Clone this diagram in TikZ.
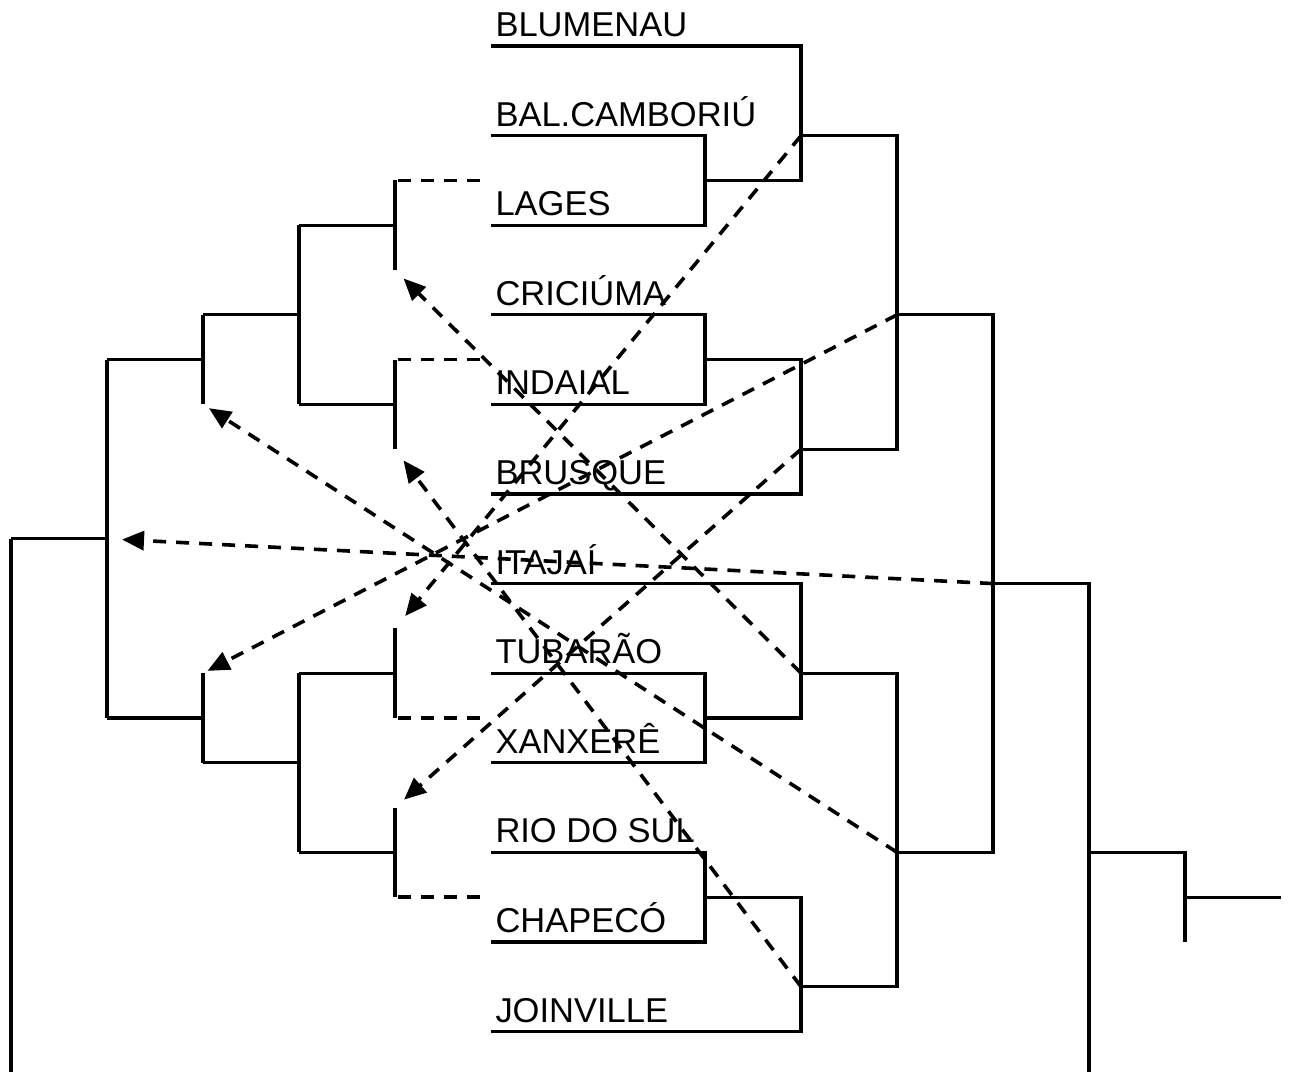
\documentclass[tikz,border=0pt]{standalone}
\usepackage{fontspec}
\setmainfont{Liberation Sans}
\usetikzlibrary{arrows.meta}

\tikzset{
  team/.style = {anchor=base west, inner sep=0pt, font=\fontsize{34.5}{40}\selectfont},
  slot/.style = {line width=3.6pt, dash pattern=on 13pt off 10pt},
  pass/.style = {slot, -{Triangle[length=22pt,width=19pt]}, shorten >=12pt}
}

\begin{document}
\begin{tikzpicture}[x=96pt, y=-44.8pt, line width=3.2pt]
\useasboundingbox (-0.115,-1.027) rectangle (13.344,22.902);

% teams
\node [team] (blumenau) at (5.03,-0.21) {BLUMENAU};
\node [team] (balcamboriu) at (5.03,1.79) {BAL.CAMBORIÚ};
\node [team] (lages) at (5.03,3.79) {LAGES};
\node [team] (criciuma) at (5.03,5.79) {CRICIÚMA};
\node [team] (indaial) at (5.03,7.79) {INDAIAL};
\node [team] (brusque) at (5.03,9.79) {BRUSQUE};
\node [team] (itajai) at (5.03,11.79) {ITAJAÍ};
\node [team] (tubarao) at (5.03,13.79) {TUBARÃO};
\node [team] (xanxere) at (5.03,15.79) {XANXERÊ};
\node [team] (riodosul) at (5.03,17.79) {RIO DO SUL};
\node [team] (chapeco) at (5.03,19.79) {CHAPECÓ};
\node [team] (joinville) at (5.03,21.79) {JOINVILLE};

% right bracket, upper half
\draw (5,0) -- (8.23,0) -- (8.23,3) -- (7.23,3);
\draw (5,2) -- (7.23,2) -- (7.23,4) -- (5,4);
\draw (5,6) -- (7.23,6) -- (7.23,8) -- (5,8);
\draw (7.23,7) -- (8.23,7) -- (8.23,10) -- (5,10);
\draw (8.23,2) -- (9.23,2) -- (9.23,9) -- (8.23,9);
\draw (9.23,6) -- (10.23,6) -- (10.23,18) -- (9.23,18);
\draw (10.23,12) -- (11.23,12) -- (11.23,23);
% right bracket, lower half
\draw (5,12) -- (8.23,12) -- (8.23,15) -- (7.23,15);
\draw (5,14) -- (7.23,14) -- (7.23,16) -- (5,16);
\draw (8.23,14) -- (9.23,14) -- (9.23,21) -- (8.23,21);
\draw (5,18) -- (7.23,18) -- (7.23,20) -- (5,20);
\draw (7.23,19) -- (8.23,19) -- (8.23,22) -- (5,22);
% final
\draw (11.23,18) -- (12.23,18) -- (12.23,20);
\draw (12.23,19) -- (13.23,19);

% left bracket
\draw (4,3) -- (4,5);
\draw (4,7) -- (4,9);
\draw (3,4) -- (4,4);
\draw (3,8) -- (4,8);
\draw (3,4) -- (3,8);
\draw (2,6) -- (3,6);
\draw (2,6) -- (2,8);
\draw (1,7) -- (2,7);
\draw (1,7) -- (1,15);
\draw (0,11) -- (1,11);
\draw (0,11) -- (0,23);
\draw (1,15) -- (2,15);
\draw (2,14) -- (2,16);
\draw (2,16) -- (3,16);
\draw (3,14) -- (3,18);
\draw (3,14) -- (4,14);
\draw (3,18) -- (4,18);
\draw (4,13) -- (4,15);
\draw (4,17) -- (4,19);

% open slots
\draw [slot] (4.03,3) -- (4.96,3);
\draw [slot] (4.03,7) -- (4.96,7);
\draw [slot] (4.03,15) -- (4.96,15);
\draw [slot] (4.03,19) -- (4.96,19);

% where the winners go
\coordinate (a1) at (8.23,2);
\coordinate (a2) at (9.23,6);
\coordinate (a3) at (8.23,9);
\coordinate (a4) at (10.23,12);
\coordinate (a5) at (8.23,14);
\coordinate (a6) at (9.23,18);
\coordinate (a7) at (8.23,21);
\coordinate (b1) at (4,13);
\coordinate (b2) at (2,14);
\coordinate (b3) at (4,17);
\coordinate (b4) at (1,11);
\coordinate (b5) at (4,5);
\coordinate (b6) at (2,8);
\coordinate (b7) at (4,9);
\draw [pass, shorten >=16pt] (a1) -- (b1);
\draw [pass, shorten >=5pt] (a2) -- (b2);
\draw [pass] (a3) -- (b3);
\draw [pass, shorten >=15pt] (a4) -- (b4);
\draw [pass] (a5) -- (b5);
\draw [pass, shorten >=7pt] (a6) -- (b6);
\draw [pass, shorten >=14pt] (a7) -- (b7);
\end{tikzpicture}
\end{document}
